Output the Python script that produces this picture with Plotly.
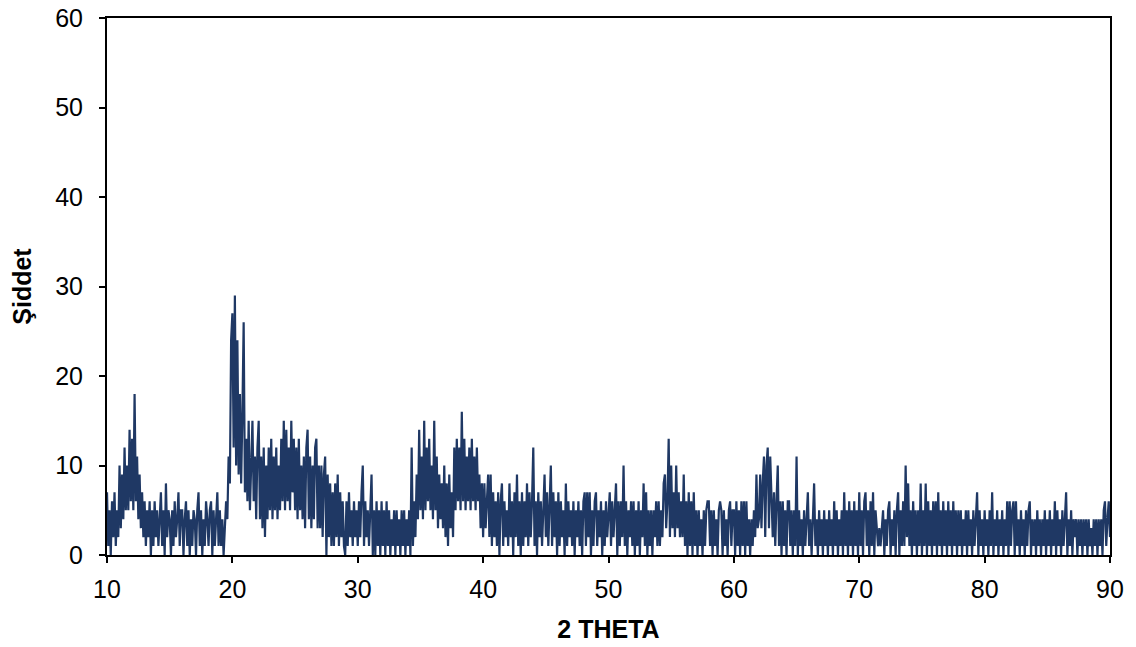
import numpy as np
import plotly.graph_objects as go

# XRD pattern: 2-theta from 10 to 90 deg, step 0.1 deg
theta_start = 10.0
theta_step = 0.1
intensity = [
    7,1,5,0,6,2,7,1,5,2,        # 10
    10,3,9,4,12,5,10,5,14,6,    # 11
    13,5,18,6,11,4,9,3,7,2,     # 12
    6,1,5,2,6,0,5,1,6,2,        # 13
    5,1,4,7,1,5,0,8,2,5,        # 14
    4,0,5,1,6,2,4,7,1,5,        # 15
    5,0,4,6,1,5,0,4,1,5,        # 16
    4,0,5,7,1,5,0,4,1,6,        # 17
    4,1,5,6,0,5,1,4,7,1,        # 18
    5,1,4,0,3,6,4,11,8,24,      # 19
    27,12,29,10,24,9,18,8,16,26,  # 20
    7,13,6,15,5,12,15,6,11,4,   # 21
    12,15,4,11,3,12,2,10,4,12,  # 22
    5,13,4,11,5,12,4,10,5,13,   # 23
    6,15,5,14,6,12,5,15,7,13,   # 24
    5,12,4,13,5,10,4,11,3,12,   # 25
    14,4,11,3,10,4,12,13,3,10,  # 26
    3,10,2,9,11,0,9,2,8,1,      # 27
    7,1,8,2,9,1,7,2,6,1,        # 28
    0,6,1,7,2,5,1,6,2,5,        # 29
    1,6,2,7,10,1,6,2,5,1,       # 30
    6,9,0,5,0,6,1,5,0,6,        # 31
    1,5,0,6,1,5,0,4,1,5,        # 32
    0,5,1,4,0,5,1,5,0,4,        # 33
    1,5,0,12,1,6,2,9,4,14,      # 34
    5,11,4,15,5,12,6,13,5,10,   # 35
    4,15,5,11,3,9,4,8,3,10,     # 36
    2,8,1,9,3,7,2,12,5,13,      # 37
    6,12,5,16,6,13,5,11,6,12,   # 38
    5,13,6,11,5,12,6,9,3,8,     # 39
    2,8,3,7,9,2,9,1,7,2,        # 40
    6,1,7,0,6,8,1,6,2,5,        # 41
    1,8,2,6,0,7,2,9,1,6,        # 42
    0,7,1,6,2,8,1,7,2,6,        # 43
    12,1,6,0,7,2,6,1,5,9,       # 44
    2,7,1,6,10,1,7,2,6,0,       # 45
    7,1,6,2,5,0,8,1,6,2,        # 46
    5,1,6,0,5,2,6,1,5,0,        # 47
    6,7,1,7,2,7,0,5,1,6,        # 48
    7,1,5,2,6,0,5,1,6,2,        # 49
    5,7,1,6,2,6,8,0,6,1,        # 50
    6,2,10,1,6,0,5,2,6,1,       # 51
    6,0,5,1,6,0,5,2,8,1,        # 52
    7,0,5,1,5,0,5,2,6,1,        # 53
    6,1,5,2,8,9,3,6,13,2,       # 54
    10,3,7,2,10,3,7,2,6,2,      # 55
    9,1,6,0,7,1,6,0,7,1,        # 56
    5,0,5,1,4,0,5,1,5,6,        # 57
    6,1,5,0,5,1,4,0,5,6,        # 58
    5,0,5,1,4,0,5,6,1,5,        # 59
    5,0,6,1,5,0,6,1,6,0,        # 60
    6,1,4,0,4,1,5,2,9,3,        # 61
    4,9,3,8,11,2,10,12,3,11,    # 62
    6,2,7,1,6,10,1,6,0,6,       # 63
    1,5,0,6,6,1,5,0,5,1,        # 64
    11,0,5,1,4,0,5,1,4,7,       # 65
    1,4,0,5,8,1,4,0,5,1,        # 66
    4,0,5,1,4,0,5,1,4,0,        # 67
    6,1,5,0,4,1,5,0,7,1,        # 68
    5,0,6,1,5,0,6,1,5,0,        # 69
    7,1,5,0,6,7,1,5,0,6,        # 70
    1,7,0,5,3,1,3,1,3,5,        # 71
    0,4,1,5,6,0,4,1,5,0,        # 72
    5,7,0,5,1,6,1,10,2,8,       # 73
    1,5,0,6,1,5,0,5,1,8,        # 74
    0,5,1,8,0,6,1,5,0,6,        # 75
    1,6,0,7,1,5,0,6,1,5,        # 76
    0,6,1,5,0,6,1,5,0,5,        # 77
    1,5,0,4,1,5,0,5,1,4,        # 78
    0,5,1,4,7,0,5,1,4,0,        # 79
    5,1,4,0,5,1,7,0,4,1,        # 80
    5,0,4,1,5,0,4,1,6,0,        # 81
    6,1,5,6,0,6,1,4,0,5,        # 82
    1,4,0,5,1,5,6,0,4,1,        # 83
    4,0,5,1,4,0,4,1,5,0,        # 84
    4,1,5,0,4,1,6,0,5,1,        # 85
    4,0,5,1,5,7,0,4,1,5,        # 86
    0,4,2,4,0,4,1,4,0,4,        # 87
    1,4,0,4,1,3,0,4,1,4,        # 88
    0,4,1,4,0,5,6,1,4,6,        # 89
    2,                          # 90
]
theta = theta_start + theta_step * np.arange(len(intensity))

x_ticks = [10, 20, 30, 40, 50, 60, 70, 80, 90]
y_ticks = [0, 10, 20, 30, 40, 50, 60]

fig = go.Figure()
fig.add_trace(go.Scatter(
    x=theta, y=intensity, mode="lines",
    line=dict(color="#1F3864", width=2.2),
    showlegend=False, hoverinfo="skip",
))

axis_font = dict(family="Liberation Sans, Arial, sans-serif", size=25, color="black")
fig.update_layout(
    width=1136, height=647,
    margin=dict(l=99, r=34, t=10, b=100, autoexpand=False),
    paper_bgcolor="white", plot_bgcolor="white",
    font=axis_font,
    xaxis=dict(
        range=[10, 90], tickvals=x_ticks, ticks="outside", ticklen=6,
        tickwidth=1.5, tickcolor="black",
        showline=True, linecolor="black", linewidth=2, mirror=True,
        showgrid=False, zeroline=False, ticklabelstandoff=5,
        ticklabeloverflow="allow", automargin=False,
        title=dict(text="<b>2 THETA</b>", font=dict(size=25), standoff=18),
    ),
    yaxis=dict(
        range=[0, 60], tickvals=y_ticks, ticks="outside", ticklen=6,
        tickwidth=1.5, tickcolor="black",
        showline=True, linecolor="black", linewidth=2, mirror=True,
        showgrid=False, zeroline=False, ticklabelstandoff=11,
        ticklabeloverflow="allow", automargin=False,
        title=dict(text="<b>Şiddet</b>", font=dict(size=25), standoff=20),
    ),
)

fig.write_html("out.html")
